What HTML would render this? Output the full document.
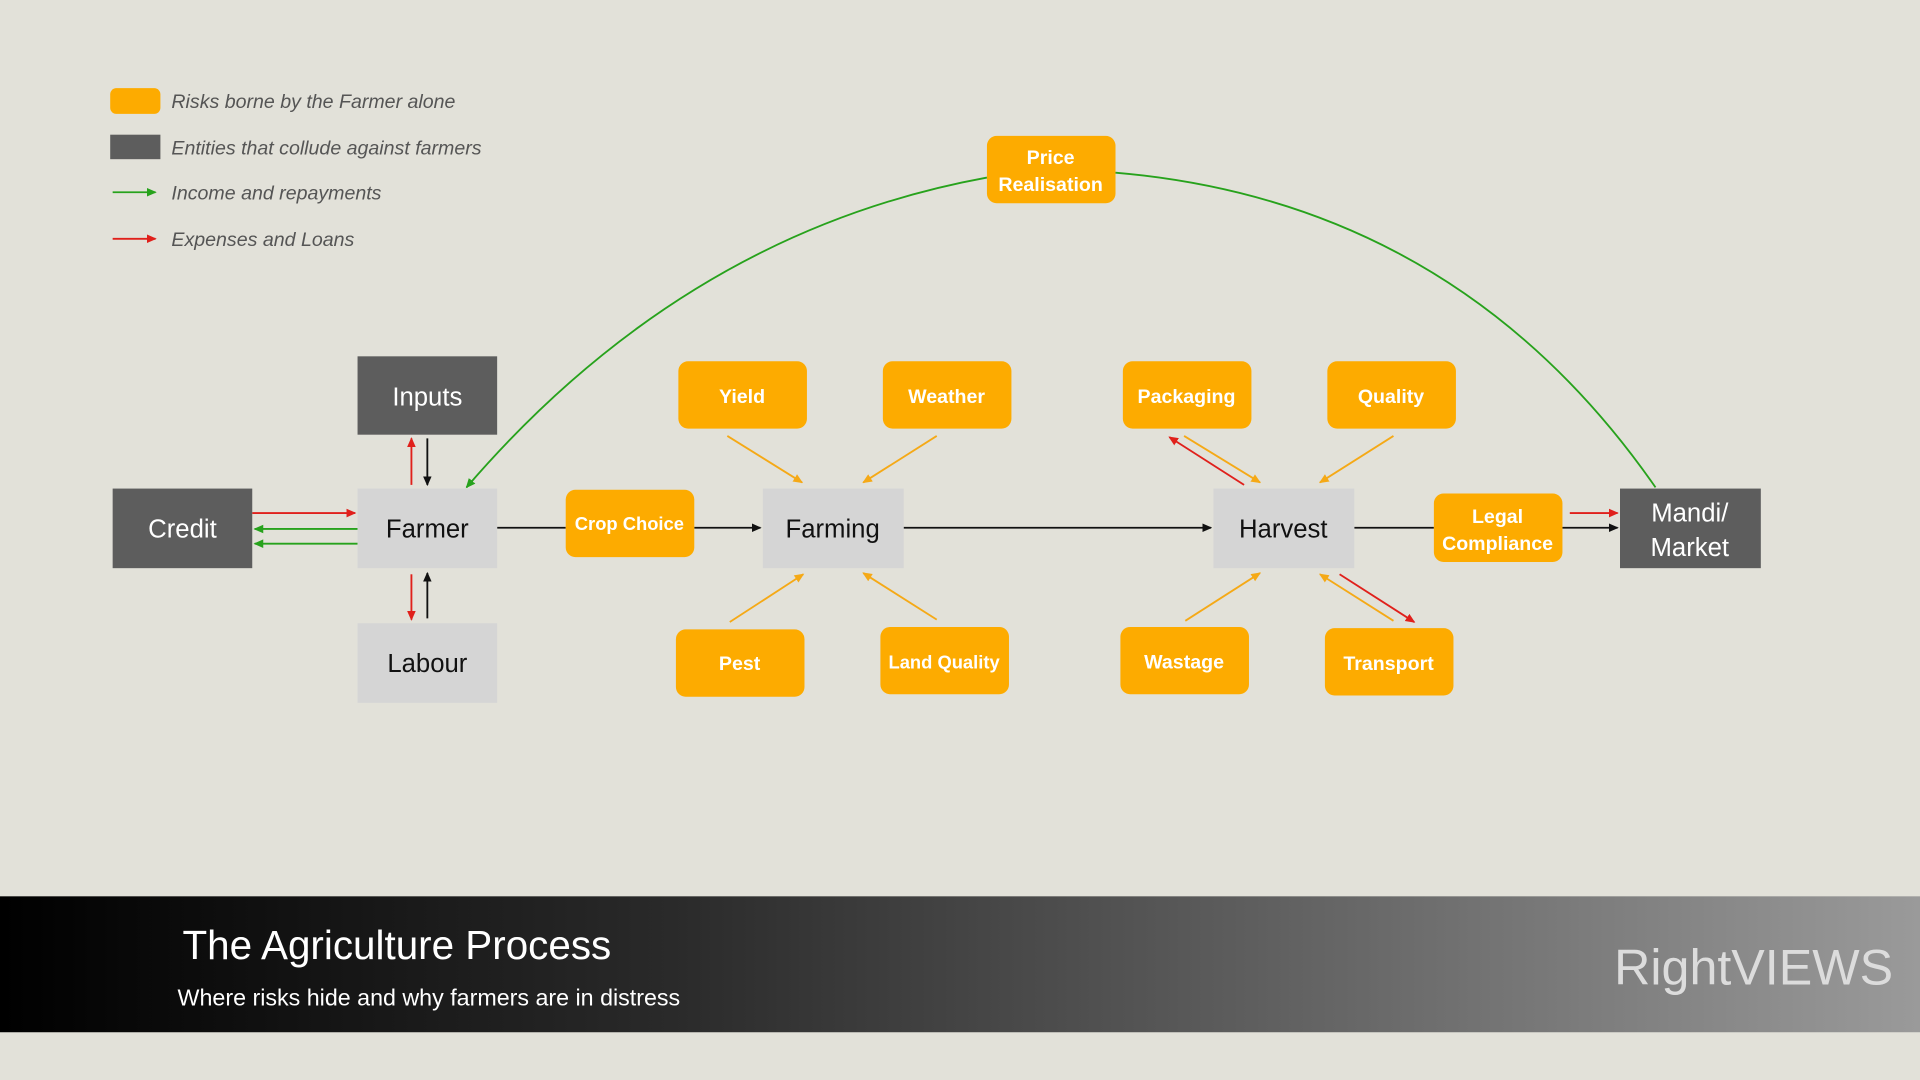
<!DOCTYPE html>
<html><head><meta charset="utf-8"><style>
html,body{margin:0;padding:0;background:#e2e1d9;}
svg{display:block;}
text{font-family:"Liberation Sans",sans-serif;}
</style></head><body>
<svg width="1920" height="1080" viewBox="0 0 1568 882" preserveAspectRatio="none" xmlns="http://www.w3.org/2000/svg">
<defs>
<marker id="mk" markerWidth="8" markerHeight="8" refX="7" refY="4" orient="auto" markerUnits="userSpaceOnUse"><path d="M0,0.5 L8,4 L0,7.5z" fill="#111"/></marker>
<marker id="mr" markerWidth="8" markerHeight="8" refX="7" refY="4" orient="auto" markerUnits="userSpaceOnUse"><path d="M0,0.5 L8,4 L0,7.5z" fill="#e0201b"/></marker>
<marker id="mg" markerWidth="8" markerHeight="8" refX="7" refY="4" orient="auto" markerUnits="userSpaceOnUse"><path d="M0,0.5 L8,4 L0,7.5z" fill="#27a21c"/></marker>
<marker id="mo" markerWidth="8" markerHeight="8" refX="7" refY="4" orient="auto" markerUnits="userSpaceOnUse"><path d="M0,0.5 L8,4 L0,7.5z" fill="#f5a916"/></marker>
<linearGradient id="bar" x1="0" x2="1" y1="0" y2="0"><stop offset="0" stop-color="#000"/><stop offset="0.35" stop-color="#2a2a2a"/><stop offset="1" stop-color="#9a9a9a"/></linearGradient>
</defs>
<rect width="1568" height="882" fill="#e2e1d9"/>

<rect x="90" y="72" width="41" height="21" rx="5" fill="#fdab00"/>
<rect x="90" y="110" width="41" height="20" fill="#5d5d5d"/>
<line x1="92" y1="157" x2="127" y2="157" stroke="#27a21c" stroke-width="1.5" marker-end="url(#mg)"/>
<line x1="92" y1="195" x2="127" y2="195" stroke="#e0201b" stroke-width="1.5" marker-end="url(#mr)"/>
<g font-size="16" font-style="italic" fill="#555">
<text x="140" y="88">Risks borne by the Farmer alone</text>
<text x="140" y="126">Entities that collude against farmers</text>
<text x="140" y="163">Income and repayments</text>
<text x="140" y="201">Expenses and Loans</text>
</g>

<path d="M806,145 Q560,190 381,398" fill="none" stroke="#27a21c" stroke-width="1.5" marker-end="url(#mg)"/>
<path d="M911,141 Q1190,165 1352,398" fill="none" stroke="#27a21c" stroke-width="1.5"/>

<g stroke-width="1.5" fill="none">
<line x1="206" y1="419" x2="290" y2="419" stroke="#e0201b" marker-end="url(#mr)"/>
<line x1="292" y1="432" x2="208" y2="432" stroke="#27a21c" marker-end="url(#mg)"/>
<line x1="292" y1="444" x2="208" y2="444" stroke="#27a21c" marker-end="url(#mg)"/>
<line x1="336" y1="396" x2="336" y2="358" stroke="#e0201b" marker-end="url(#mr)"/>
<line x1="349" y1="358" x2="349" y2="396" stroke="#111" marker-end="url(#mk)"/>
<line x1="336" y1="469" x2="336" y2="506" stroke="#e0201b" marker-end="url(#mr)"/>
<line x1="349" y1="505" x2="349" y2="468" stroke="#111" marker-end="url(#mk)"/>
<line x1="406" y1="431" x2="462" y2="431" stroke="#111"/>
<line x1="567" y1="431" x2="621" y2="431" stroke="#111" marker-end="url(#mk)"/>
<line x1="738" y1="431" x2="989" y2="431" stroke="#111" marker-end="url(#mk)"/>
<line x1="1106" y1="431" x2="1171" y2="431" stroke="#111"/>
<line x1="1276" y1="431" x2="1321" y2="431" stroke="#111" marker-end="url(#mk)"/>
<line x1="1282" y1="419" x2="1321" y2="419" stroke="#e0201b" marker-end="url(#mr)"/>
<line x1="594" y1="356" x2="655" y2="394" stroke="#f5a916" marker-end="url(#mo)"/>
<line x1="765" y1="356" x2="705" y2="394" stroke="#f5a916" marker-end="url(#mo)"/>
<line x1="596" y1="508" x2="656" y2="469" stroke="#f5a916" marker-end="url(#mo)"/>
<line x1="765" y1="506" x2="705" y2="468" stroke="#f5a916" marker-end="url(#mo)"/>
<line x1="967" y1="356" x2="1029" y2="394" stroke="#f5a916" marker-end="url(#mo)"/>
<line x1="1016" y1="396" x2="955" y2="357" stroke="#e0201b" marker-end="url(#mr)"/>
<line x1="1138" y1="356" x2="1078" y2="394" stroke="#f5a916" marker-end="url(#mo)"/>
<line x1="968" y1="507" x2="1029" y2="468" stroke="#f5a916" marker-end="url(#mo)"/>
<line x1="1138" y1="507" x2="1078" y2="469" stroke="#f5a916" marker-end="url(#mo)"/>
<line x1="1094" y1="469" x2="1155" y2="508" stroke="#e0201b" marker-end="url(#mr)"/>
</g>

<g>
<rect x="292" y="291" width="114" height="64" fill="#5d5d5d"/>
<rect x="92" y="399" width="114" height="65" fill="#5d5d5d"/>
<rect x="1323" y="399" width="115" height="65" fill="#5d5d5d"/>
<rect x="292" y="399" width="114" height="65" fill="#d5d5d5"/>
<rect x="292" y="509" width="114" height="65" fill="#d5d5d5"/>
<rect x="623" y="399" width="115" height="65" fill="#d5d5d5"/>
<rect x="991" y="399" width="115" height="65" fill="#d5d5d5"/>
</g>
<g fill="#fdab00">
<rect x="806" y="111" width="105" height="55" rx="8"/>
<rect x="462" y="400" width="105" height="55" rx="8"/>
<rect x="1171" y="403" width="105" height="56" rx="8"/>
<rect x="554" y="295" width="105" height="55" rx="8"/>
<rect x="721" y="295" width="105" height="55" rx="8"/>
<rect x="917" y="295" width="105" height="55" rx="8"/>
<rect x="1084" y="295" width="105" height="55" rx="8"/>
<rect x="552" y="514" width="105" height="55" rx="8"/>
<rect x="719" y="512" width="105" height="55" rx="8"/>
<rect x="915" y="512" width="105" height="55" rx="8"/>
<rect x="1082" y="513" width="105" height="55" rx="8"/>
</g>

<g text-anchor="middle" font-size="21">
<text x="349" y="331" fill="#fff">Inputs</text>
<text x="149" y="439" fill="#fff">Credit</text>
<text x="349" y="439" fill="#111">Farmer</text>
<text x="349" y="549" fill="#111">Labour</text>
<text x="680" y="439" fill="#111">Farming</text>
<text x="1048" y="439" fill="#111">Harvest</text>
<text x="1380" y="426" fill="#fff">Mandi/</text>
<text x="1380" y="454" fill="#fff">Market</text>
</g>
<g text-anchor="middle" font-size="16" font-weight="bold" fill="#fff">
<text x="858" y="134">Price</text>
<text x="858" y="156">Realisation</text>
<text x="514" y="433" font-size="15">Crop Choice</text>
<text x="1223" y="427">Legal</text>
<text x="1223" y="449">Compliance</text>
<text x="606" y="329">Yield</text>
<text x="773" y="329">Weather</text>
<text x="969" y="329">Packaging</text>
<text x="1136" y="329">Quality</text>
<text x="604" y="547">Pest</text>
<text x="771" y="546" font-size="15">Land Quality</text>
<text x="967" y="546">Wastage</text>
<text x="1134" y="547">Transport</text>
</g>

<rect x="0" y="732" width="1568" height="111" fill="url(#bar)"/>
<text x="149" y="783" font-size="33" fill="#fff">The Agriculture Process</text>
<text x="145" y="821" font-size="19" fill="#fff">Where risks hide and why farmers are in distress</text>
<text x="1546" y="804" font-size="41" fill="#dcdcdc" text-anchor="end">RightVIEWS</text>
</svg>
</body></html>
